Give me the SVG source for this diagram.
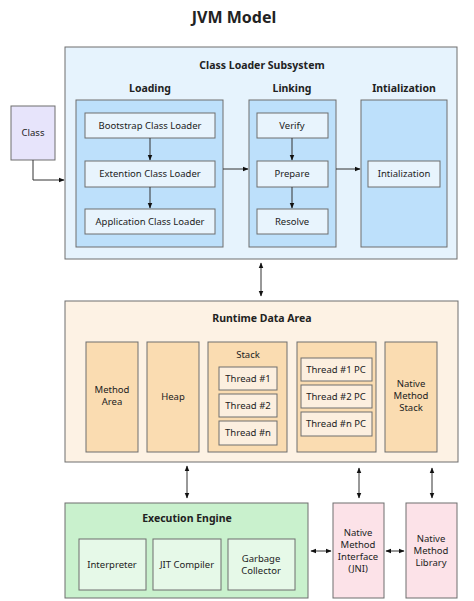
<svg xmlns="http://www.w3.org/2000/svg" width="474" height="601" viewBox="0 0 474 601">
<style>
text{font-family:"Noto Sans","DejaVu Sans",sans-serif;font-size:9.5px;fill:#222;text-anchor:middle}
.t{font-size:16px;font-weight:bold}
.h{font-size:10.5px;font-weight:bold}
rect{stroke:#6e6e6e;stroke-width:1}
.cl{fill:#e6f3fd}.lb{fill:#bde0fb}.li{fill:#e8f4fd}
.cls{fill:#e7e4fb}
.ro{fill:#fdf2e4}.ri{fill:#fadcb1}.rt{fill:#fcefdf}
.eo{fill:#c9f1cd}.ei{fill:#e6f9e8}
.pk{fill:#fce2e8}
.c{stroke:#333;stroke-width:1;fill:none}
</style>
<defs>
<marker id="a" viewBox="0 0 10 10" refX="9" refY="5" markerWidth="6" markerHeight="6" orient="auto-start-reverse"><path d="M0,1 L10,5 L0,9 z" fill="#111"/></marker>
</defs>
<text class="t" x="234" y="23">JVM Model</text>

<g id="classloader">
<rect class="cl" x="65" y="47" width="392" height="212"/>
<text class="h" x="262" y="69">Class Loader Subsystem</text>
<text class="h" x="150" y="92">Loading</text>
<text class="h" x="292" y="92">Linking</text>
<text class="h" x="404" y="92">Intialization</text>
</g>
<g id="loading">
<rect class="lb" x="76" y="100" width="147" height="147"/>
</g>
<g id="bootstrap"><rect class="li" x="85" y="113" width="130" height="25"/><text x="150" y="129">Bootstrap Class Loader</text></g>
<g id="extension"><rect class="li" x="85" y="161" width="130" height="26"/><text x="150" y="177">Extention Class Loader</text></g>
<g id="application"><rect class="li" x="85" y="209" width="130" height="25"/><text x="150" y="225">Application Class Loader</text></g>
<g id="linking"><rect class="lb" x="249" y="100" width="87" height="147"/></g>
<g id="verify"><rect class="li" x="257" y="113" width="71" height="25"/><text x="292" y="129">Verify</text></g>
<g id="prepare"><rect class="li" x="257" y="161" width="71" height="26"/><text x="292" y="177">Prepare</text></g>
<g id="resolve"><rect class="li" x="257" y="209" width="71" height="25"/><text x="292" y="225">Resolve</text></g>
<g id="initialization"><rect class="lb" x="361" y="100" width="86" height="147"/></g>
<g id="init-step"><rect class="li" x="368" y="161" width="72" height="26"/><text x="404" y="177">Intialization</text></g>
<g id="class"><rect class="cls" x="11" y="106" width="44" height="54"/><text x="33" y="136">Class</text></g>

<g id="runtime">
<rect class="ro" x="65" y="301" width="393" height="161"/>
<text class="h" x="262" y="322">Runtime Data Area</text>
</g>
<g id="method-area"><rect class="ri" x="86" y="342" width="52" height="110"/><text x="112" y="393">Method</text><text x="112" y="405">Area</text></g>
<g id="heap"><rect class="ri" x="147" y="342" width="52" height="110"/><text x="173" y="400">Heap</text></g>
<g id="stack"><rect class="ri" x="208" y="342" width="79" height="110"/><text x="248" y="358">Stack</text>
<rect class="rt" x="219" y="367" width="58" height="23"/><text x="248" y="382">Thread #1</text>
<rect class="rt" x="219" y="394" width="58" height="23"/><text x="248" y="409">Thread #2</text>
<rect class="rt" x="219" y="421" width="58" height="24"/><text x="248" y="436">Thread #n</text></g>
<g id="pc"><rect class="ri" x="297" y="342" width="79" height="110"/>
<rect class="rt" x="301" y="358" width="71" height="23"/><text x="336" y="373">Thread #1 PC</text>
<rect class="rt" x="301" y="385" width="71" height="23"/><text x="336" y="400">Thread #2 PC</text>
<rect class="rt" x="301" y="412" width="71" height="24"/><text x="336" y="427">Thread #n PC</text></g>
<g id="native-stack"><rect class="ri" x="385" y="342" width="52" height="110"/><text x="411" y="387">Native</text><text x="411" y="399">Method</text><text x="411" y="411">Stack</text></g>

<g id="execution">
<rect class="eo" x="65" y="503" width="243" height="95"/>
<text class="h" x="187" y="522">Execution Engine</text>
</g>
<g id="interpreter"><rect class="ei" x="79" y="539" width="67" height="51"/><text x="112" y="568">Interpreter</text></g>
<g id="jit"><rect class="ei" x="153" y="539" width="68" height="51"/><text x="187" y="568">JIT Compiler</text></g>
<g id="gc"><rect class="ei" x="228" y="539" width="67" height="51"/><text x="261" y="562">Garbage</text><text x="261" y="574">Collector</text></g>
<g id="jni"><rect class="pk" x="333" y="503" width="51" height="95"/><text x="358" y="536">Native</text><text x="358" y="548">Method</text><text x="358" y="560">Interface</text><text x="358" y="572">(JNI)</text></g>
<g id="library"><rect class="pk" x="406" y="503" width="51" height="95"/><text x="431" y="542">Native</text><text x="431" y="554">Method</text><text x="431" y="566">Library</text></g>

<g id="connectors">
<path class="c" d="M33,160 V180 H64" marker-end="url(#a)"/>
<path class="c" d="M150,138 V160" marker-end="url(#a)"/>
<path class="c" d="M150,187 V208" marker-end="url(#a)"/>
<path class="c" d="M292,138 V160" marker-end="url(#a)"/>
<path class="c" d="M292,187 V208" marker-end="url(#a)"/>
<path class="c" d="M223,169 H248" marker-end="url(#a)"/>
<path class="c" d="M336,169 H360" marker-end="url(#a)"/>
<path class="c" d="M261,263 V296" marker-start="url(#a)" marker-end="url(#a)"/>
<path class="c" d="M187,466 V498" marker-start="url(#a)" marker-end="url(#a)"/>
<path class="c" d="M359,468 V498" marker-start="url(#a)" marker-end="url(#a)"/>
<path class="c" d="M432,468 V498" marker-start="url(#a)" marker-end="url(#a)"/>
<path class="c" d="M311,551 H331" marker-start="url(#a)" marker-end="url(#a)"/>
<path class="c" d="M386,551 H404" marker-start="url(#a)" marker-end="url(#a)"/>
</g>
</svg>
